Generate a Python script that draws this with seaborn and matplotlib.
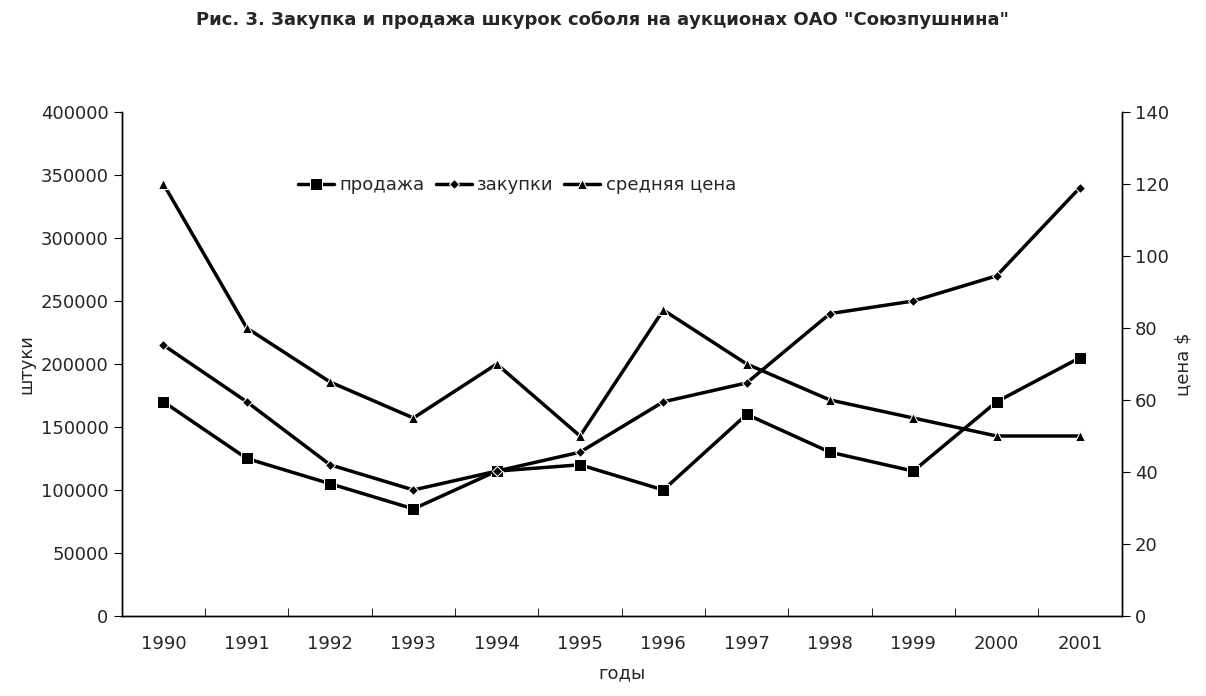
import matplotlib
matplotlib.use("Agg")
import matplotlib.pyplot as plt
import seaborn as sns
import pandas as pd
import numpy as np

years = ["1990","1991","1992","1993","1994","1995","1996","1997","1998","1999","2000","2001"]
sales = [170000,125000,105000,85000,115000,120000,100000,160000,130000,115000,170000,205000]
purchases = [215000,170000,120000,100000,115000,130000,170000,185000,240000,250000,270000,340000]
price = [120,80,65,55,70,50,85,70,60,55,50,50]

plt.rcParams["font.family"] = "Liberation Sans"
sns.set_style("ticks")
fig = plt.figure(figsize=(12.06, 6.96), dpi=100)
ax = fig.add_axes([0.101, 0.115, 0.829, 0.724])
x = np.arange(len(years))
df = pd.DataFrame({"x": x, "s": sales, "p": purchases, "c": price})
l1 = sns.lineplot(data=df, x="x", y="s", ax=ax, color="black", lw=2.5, marker="s", markersize=9, label="продажа", legend=False)
sns.lineplot(data=df, x="x", y="p", ax=ax, color="black", lw=2.5, marker="D", markersize=5, label="закупки", legend=False)
ax2 = ax.twinx()
sns.lineplot(data=df, x="x", y="c", ax=ax2, color="black", lw=2.5, marker="^", markersize=7, label="средняя цена", legend=False)

ax.set_xlim(-0.5, 11.5)
ax.set_ylim(0, 400000)
ax2.set_ylim(0, 140)
ax.set_yticks(range(0, 400001, 50000))
ax2.set_yticks(range(0, 141, 20))
ax.set_xticks(x)
ax.set_xticklabels(years)
ax.set_xticks(np.arange(-0.5, 12, 1), minor=True)
ax.tick_params(axis="x", which="major", length=0, pad=14, labelsize=13)
ax.tick_params(axis="x", which="minor", length=6, direction="in", color="black")
ax.tick_params(axis="y", labelsize=13, direction="out", length=6, color="black")
ax2.tick_params(axis="y", labelsize=13, direction="out", length=6, color="black")
for a in (ax, ax2):
    a.spines["top"].set_visible(False)
    for s in ("left", "right", "bottom"):
        a.spines[s].set_color("black")
        a.spines[s].set_linewidth(1)
ax.set_xlabel("годы", fontsize=13, labelpad=8)
ax.set_ylabel("штуки", fontsize=13)
ax2.set_ylabel("цена $", fontsize=13)
h1, lab1 = ax.get_legend_handles_labels()
h2, lab2 = ax2.get_legend_handles_labels()
ax.legend(h1 + h2, lab1 + lab2, loc="upper left", bbox_to_anchor=(0.16, 0.905), ncol=3,
          frameon=False, fontsize=13, handlelength=2, columnspacing=0.6, handletextpad=0.3)
fig.suptitle('Рис. 3. Закупка и продажа шкурок соболя на аукционах ОАО "Союзпушнина"',
             fontsize=13, fontweight="bold", y=0.985)
fig.savefig("out.png", dpi=100)
